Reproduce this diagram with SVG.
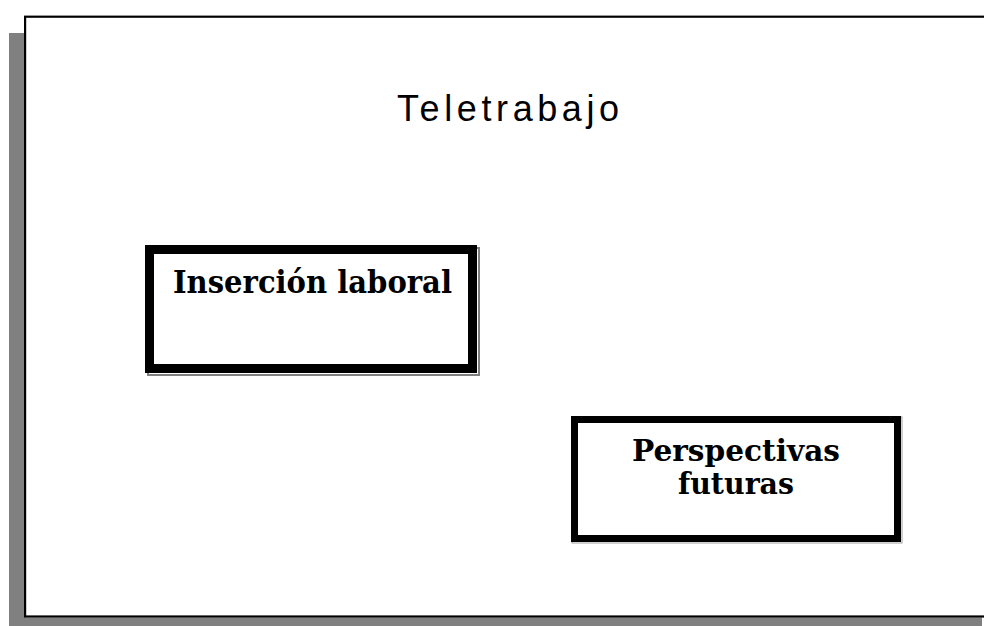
<svg xmlns="http://www.w3.org/2000/svg" width="984" height="626" viewBox="0 0 984 626">
<style>
.frame{fill:#fff;stroke:#000;stroke-width:2.2}
.shadow{fill:#808080}
.box{fill:#fff;stroke:#000}
.title{font-family:"Liberation Sans",Arial,sans-serif;font-size:36px;fill:#000;letter-spacing:4.6px}
.lbl{font-family:"DejaVu Serif","Liberation Serif",serif;font-weight:bold;fill:#000;text-anchor:middle}
</style>
<rect width="984" height="626" fill="#fff"/>
<g id="frame">
<rect class="shadow" x="9" y="33" width="16" height="593"/>
<rect class="shadow" x="9" y="617.5" width="973" height="8.5"/>
<line x1="25" y1="18.2" x2="984" y2="18.2" stroke="#c0c0c0" stroke-width="1"/>
<rect class="frame" x="25.1" y="16.7" width="1000" height="599.8"/>
<text class="title" x="397" y="121">Teletrabajo</text>
</g>
<g id="insercion">
<rect x="148" y="248" width="331" height="127" fill="none" stroke="#808080" stroke-width="2"/>
<rect class="box" x="149.5" y="249.5" width="323" height="119" stroke-width="9"/>
<text class="lbl" x="312.5" y="293" font-size="31" textLength="279" lengthAdjust="spacingAndGlyphs">Inserción laboral</text>
</g>
<g id="perspectivas">
<rect x="572" y="417" width="330" height="126" fill="none" stroke="#a0a0a0" stroke-width="1"/>
<rect class="box" x="574.5" y="419.5" width="323" height="119" stroke-width="7"/>
<text class="lbl" x="736" y="461" font-size="30" textLength="208" lengthAdjust="spacingAndGlyphs">Perspectivas</text>
<text class="lbl" x="736" y="494" font-size="30" textLength="116" lengthAdjust="spacingAndGlyphs">futuras</text>
</g>
<g id="connectors"></g>
</svg>
